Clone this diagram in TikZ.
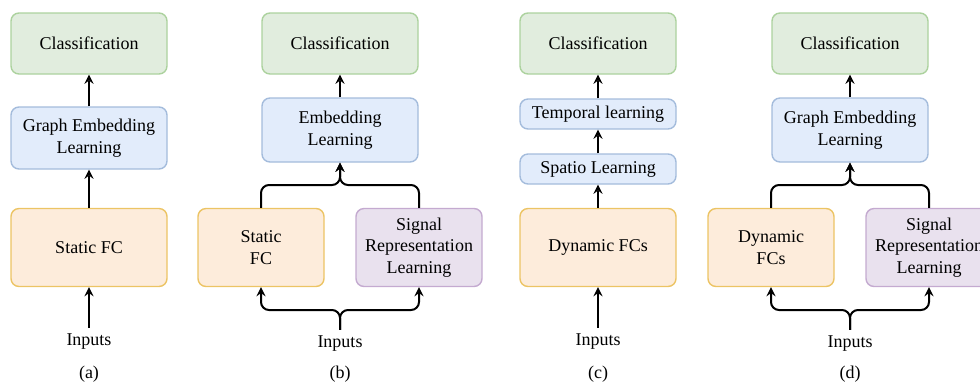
\documentclass[tikz,border=0pt]{standalone}
\usepackage{fontspec}
\setmainfont{Liberation Serif}
\usetikzlibrary{arrows, positioning, calc}
\definecolor{clsfill}{RGB}{225,237,222}
\definecolor{clsline}{RGB}{172,210,158}
\definecolor{embfill}{RGB}{226,236,251}
\definecolor{embline}{RGB}{164,188,220}
\definecolor{fcfill}{RGB}{253,236,219}
\definecolor{fcline}{RGB}{236,196,100}
\definecolor{sigfill}{RGB}{233,225,238}
\definecolor{sigline}{RGB}{196,170,208}

\begin{document}
\begin{tikzpicture}[
    x=0.5pt, y=-0.5pt,
    font=\rmfamily\fontsize{9}{10.8}\selectfont,
    box/.style={rectangle, rounded corners=4pt, draw, line width=0.7pt, align=center, minimum width=78pt, inner sep=2pt},
    cls/.style={box, fill=clsfill, draw=clsline, minimum height=30.5pt},
    emb/.style={box, fill=embfill, draw=embline},
    fc/.style={box, fill=fcfill, draw=fcline, minimum height=39pt},
    sig/.style={box, fill=sigfill, draw=sigline, minimum width=63pt, minimum height=39pt},
    txt/.style={inner sep=3pt},
    arrow/.style={line width=1pt,->,>=stealth},
    split/.style={arrow, rounded corners=4pt}
]
\useasboundingbox (0,0) rectangle (980,382);

% (a) static FC
\node[cls] (clsa) at (89,43.5) {Classification};
\node[emb, minimum height=31pt] (gela) at (89,138) {Graph Embedding\\Learning};
\node[fc] (fca) at (89,247.5) {Static FC};
\node[txt] (ina) at (89,342) {Inputs};
\node (capa) at (89,374) {(a)};

\draw[arrow] (ina) -- (fca);
\draw[arrow] (fca) -- (gela);
\draw[arrow] (gela) -- (clsa);

% (b) static FC + signal representation
\node[cls] (clsb) at (340,43.5) {Classification};
\node[emb, minimum height=32pt] (embb) at (340,130) {Embedding\\Learning};
\node[fc, minimum width=63pt] (fcb) at (261,247.5) {Static\\FC};
\node[sig] (sigb) at (419,247.5) {Signal\\Representation\\Learning};
\node[txt] (inb) at (340,344) {Inputs};
\node (capb) at (340,374) {(b)};

\coordinate (botb) at (340,310);
\coordinate (topb) at (340,185);
\draw[split] (inb.north) -- (botb) -| (fcb);
\draw[split] (inb.north) -- (botb) -| (sigb);
\draw[split] (fcb) |- (topb) -- (embb);
\draw[split] (sigb) |- (topb) -- (embb);
\draw[arrow] (embb) -- (clsb);

% (c) dynamic FCs
\node[cls] (clsc) at (598,43.5) {Classification};
\node[emb, minimum height=15pt] (temc) at (598,114) {Temporal learning};
\node[emb, minimum height=15pt] (spac) at (598,169) {Spatio Learning};
\node[fc] (fcc) at (598,247.5) {Dynamic FCs};
\node[txt] (inc) at (598,342) {Inputs};
\node (capc) at (598,374) {(c)};

\draw[arrow] (inc) -- (fcc);
\draw[arrow] (fcc) -- (spac);
\draw[arrow] (spac) -- (temc);
\draw[arrow] (temc) -- (clsc);

% (d) dynamic FCs + signal representation
\node[cls] (clsd) at (850,43.5) {Classification};
\node[emb, minimum height=32pt] (geld) at (850,130) {Graph Embedding\\Learning};
\node[fc, minimum width=63pt] (fcd) at (771,247.5) {Dynamic\\FCs};
\node[sig] (sigd) at (929,247.5) {Signal\\Representation\\Learning};
\node[txt] (ind) at (850,344) {Inputs};
\node (capd) at (850,374) {(d)};

\coordinate (botd) at (850,310);
\coordinate (topd) at (850,185);
\draw[split] (ind.north) -- (botd) -| (fcd);
\draw[split] (ind.north) -- (botd) -| (sigd);
\draw[split] (fcd) |- (topd) -- (geld);
\draw[split] (sigd) |- (topd) -- (geld);
\draw[arrow] (geld) -- (clsd);

\end{tikzpicture}
\end{document}
